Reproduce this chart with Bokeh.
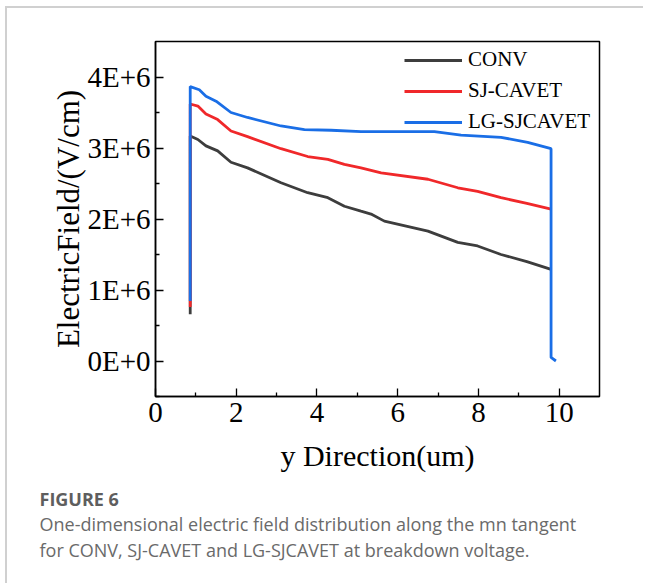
from bokeh.plotting import figure
from bokeh.models import FixedTicker, Legend, LegendItem, Title, Range1d
from bokeh.embed import file_html
from bokeh.resources import INLINE

# ---- data ----
conv_x = [0.86, 0.86, 1.05, 1.25, 1.54, 1.87, 2.28, 3.11, 3.77, 4.27, 4.68, 5.09, 5.34, 5.67, 6.75, 7.49, 7.98, 8.56, 9.20, 9.80]
conv_y = [0.66e6, 3.17e6, 3.12e6, 3.03e6, 2.96e6, 2.80e6, 2.72e6, 2.51e6, 2.37e6, 2.30e6, 2.18e6, 2.11e6, 2.07e6, 1.97e6, 1.83e6, 1.67e6, 1.62e6, 1.50e6, 1.40e6, 1.29e6]

sj_x = [0.86, 0.86, 1.05, 1.25, 1.54, 1.87, 2.28, 3.11, 3.77, 4.27, 4.68, 5.09, 5.59, 6.75, 7.49, 7.98, 8.56, 9.20, 9.80]
sj_y = [0.76e6, 3.62e6, 3.59e6, 3.48e6, 3.40e6, 3.24e6, 3.16e6, 2.99e6, 2.88e6, 2.84e6, 2.77e6, 2.72e6, 2.65e6, 2.56e6, 2.44e6, 2.39e6, 2.30e6, 2.22e6, 2.14e6]

lg_x = [0.86, 0.86, 1.085, 1.25, 1.50, 1.87, 2.28, 3.11, 3.69, 4.35, 5.09, 6.91, 7.57, 8.56, 9.22, 9.80, 9.80, 9.92]
lg_y = [0.845e6, 3.865e6, 3.82e6, 3.73e6, 3.66e6, 3.50e6, 3.43e6, 3.31e6, 3.26e6, 3.25e6, 3.23e6, 3.23e6, 3.18e6, 3.15e6, 3.08e6, 2.99e6, 0.05e6, 0.0]

series_names = ["CONV", "SJ-CAVET", "LG-SJCAVET"]
series_colors = ["#3d3d3d", "#f0282a", "#1a6ee6"]

x_ticks = [0, 2, 4, 6, 8, 10]
x_minor = [1, 3, 5, 7, 9]
y_ticks = [0, 1e6, 2e6, 3e6, 4e6]
y_tick_labels = ["0E+0", "1E+6", "2E+6", "3E+6", "4E+6"]
y_minor = [-0.5e6, 0.5e6, 1.5e6, 2.5e6, 3.5e6]

caption_head = "FIGURE 6"
caption_lines = ["One-dimensional electric field distribution along the mn tangent",
                 "for CONV, SJ-CAVET and LG-SJCAVET at breakdown voltage."]

SERIF = "Liberation Serif"

p = figure(width=638, height=577, output_backend="svg", toolbar_location=None,
           x_range=Range1d(0, 11.0), y_range=Range1d(-0.5e6, 4.5e6),
           min_border_left=148, min_border_top=33, min_border_right=46, min_border_bottom=189)
p.styles = {"border-top": "2px solid #d0d0d0", "border-left": "2px solid #d0d0d0",
            "border-right": "0px none white", "border-bottom": "0px none white",
            "margin-left": "5px", "margin-top": "6px"}

p.grid.visible = False
p.outline_line_color = "black"
p.outline_line_width = 1.5
p.background_fill_color = "white"
p.border_fill_color = "white"

for ax in (p.xaxis[0], p.yaxis[0]):
    ax.axis_line_width = 1.5
    ax.axis_line_color = "black"
    ax.major_tick_in = 8
    ax.major_tick_out = 0
    ax.minor_tick_in = 4
    ax.minor_tick_out = 0
    ax.major_tick_line_width = 1.3
    ax.minor_tick_line_width = 1.3
    ax.major_label_text_font = SERIF
    ax.major_label_text_font_size = "29px"
    ax.major_label_text_color = "black"
    ax.axis_label_text_font = SERIF
    ax.axis_label_text_font_style = "normal"
    ax.axis_label_text_font_size = "30px"
    ax.axis_label_text_color = "black"

p.yaxis.axis_label_text_font_size = "31px"
p.xaxis.ticker = FixedTicker(ticks=x_ticks, minor_ticks=x_minor)
p.yaxis.ticker = FixedTicker(ticks=y_ticks, minor_ticks=y_minor)
p.yaxis.major_label_overrides = {t: l for t, l in zip(y_ticks, y_tick_labels)}
p.xaxis.axis_label = "y Direction(um)"
p.yaxis.axis_label = "ElectricField/(V/cm)"
p.xaxis.major_label_standoff = 6
p.xaxis.axis_label_standoff = 14
p.yaxis.major_label_standoff = 5
p.yaxis.axis_label_standoff = -2

r1 = p.line(conv_x, conv_y, color=series_colors[0], line_width=2.8)
r2 = p.line(sj_x, sj_y, color=series_colors[1], line_width=2.8)
r3 = p.line(lg_x, lg_y, color=series_colors[2], line_width=2.8)

legend = Legend(items=[LegendItem(label=series_names[0], renderers=[r1]),
                       LegendItem(label=series_names[1], renderers=[r2]),
                       LegendItem(label=series_names[2], renderers=[r3])],
                location=(249, 262), border_line_color=None, background_fill_alpha=0,
                padding=0, margin=0, spacing=6, glyph_width=58, glyph_height=22,
                label_height=22, label_standoff=6,
                label_text_font=SERIF, label_text_font_size="21px", label_text_color="black")
p.add_layout(legend)

t0 = Title(text=caption_head, align="left", offset=-116, text_font="Open Sans",
           text_font_style="bold", text_font_size="18px", text_color="#5e5e5e", standoff=20)
t1 = Title(text="\n".join(caption_lines), align="left", offset=-116, text_font="Open Sans",
           text_font_style="normal", text_font_size="18px", text_color="#6a6a6a",
           text_line_height=1.1, standoff=-20)
p.add_layout(t0, "below")
p.add_layout(t1, "below")

open("out.html", "w").write(file_html(p, INLINE))
